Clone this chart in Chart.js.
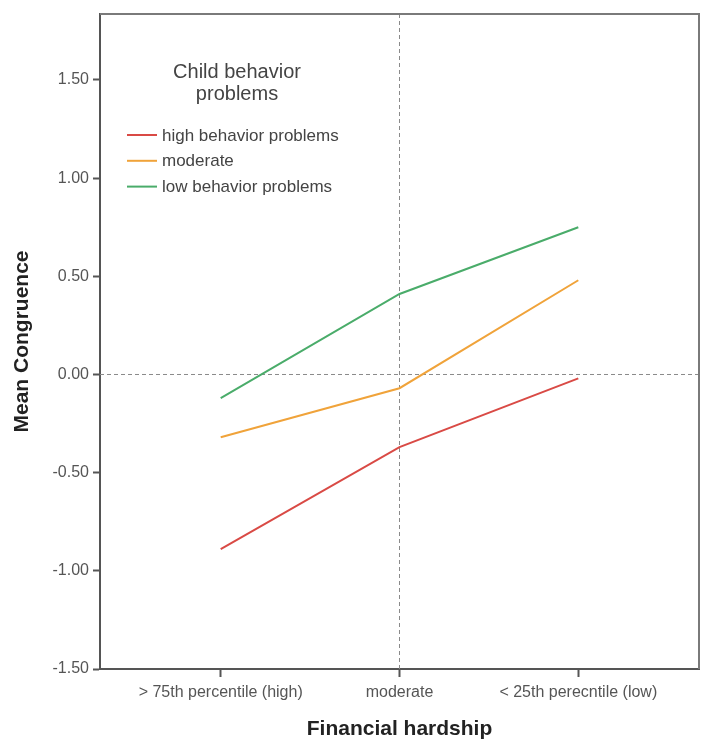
<!DOCTYPE html>
<html>
<head>
<meta charset="utf-8">
<script src="https://cdn.jsdelivr.net/npm/chart.js@4/dist/chart.umd.min.js"></script>
<style>
  html, body { margin: 0; padding: 0; background: #fff; }
  #wrap { width: 707px; height: 740px; }
</style>
</head>
<body>
<div id="wrap"><canvas id="grafico" width="707" height="740"></canvas></div>
<script>
// categorias del eje x (dificultad financiera)
const categorias = ["> 75th percentile (high)", "moderate", "< 25th perecntile (low)"];
const yTicks = [-1.5, -1.0, -0.5, 0.0, 0.5, 1.0, 1.5];

// medias
const altoProblemas = [-0.89, -0.37, -0.02];
const moderado = [-0.32, -0.07, 0.48];
const bajoProblemas = [-0.12, 0.41, 0.75];

const tituloLeyenda = ["Child behavior", "problems"];

const FUENTE = "'Liberation Sans', Arial, sans-serif";

function puntos(valores) {
  return valores.map((v, i) => ({ x: i, y: v }));
}

// caja, lineas de referencia y leyenda dentro del area
const extras = {
  id: 'extras',
  beforeDatasetsDraw(chart) {
    const { ctx, chartArea: a, scales } = chart;
    ctx.save();
    // lineas punteadas de referencia en y=0 y en "moderate"
    ctx.strokeStyle = '#8a8a8a';
    ctx.lineWidth = 1;
    ctx.setLineDash([4, 3]);
    const y0 = scales.y.getPixelForValue(0);
    ctx.beginPath();
    ctx.moveTo(a.left, y0);
    ctx.lineTo(a.right, y0);
    ctx.stroke();
    const x1 = scales.x.getPixelForValue(1);
    ctx.beginPath();
    ctx.moveTo(x1, a.top);
    ctx.lineTo(x1, a.bottom);
    ctx.stroke();
    ctx.restore();
  },
  afterDraw(chart) {
    const { ctx, chartArea: a } = chart;
    ctx.save();
    // marco superior y derecho
    ctx.strokeStyle = '#7a7a7a';
    ctx.lineWidth = 2;
    ctx.beginPath();
    ctx.moveTo(a.left, a.top);
    ctx.lineTo(a.right, a.top);
    ctx.lineTo(a.right, a.bottom);
    ctx.stroke();

    // leyenda
    ctx.fillStyle = '#444';
    ctx.font = "20px " + FUENTE;
    ctx.textAlign = 'center';
    ctx.textBaseline = 'middle';
    ctx.fillText(tituloLeyenda[0], 237, 72);
    ctx.fillText(tituloLeyenda[1], 237, 94);
    ctx.font = "17px " + FUENTE;
    ctx.textAlign = 'left';
    chart.data.datasets.forEach((ds, i) => {
      const y = 135 + i * 25.8;
      ctx.strokeStyle = ds.borderColor;
      ctx.lineWidth = 2;
      ctx.beginPath();
      ctx.moveTo(127, y);
      ctx.lineTo(157, y);
      ctx.stroke();
      ctx.fillStyle = '#444';
      ctx.fillText(ds.label, 162, y + 1);
    });
    ctx.restore();
  }
};

new Chart(document.getElementById('grafico'), {
  type: 'line',
  data: {
    datasets: [
      { label: 'high behavior problems', data: puntos(altoProblemas), borderColor: '#d94a45' },
      { label: 'moderate', data: puntos(moderado), borderColor: '#f0a33a' },
      { label: 'low behavior problems', data: puntos(bajoProblemas), borderColor: '#4aac6a' }
    ]
  },
  options: {
    responsive: false,
    animation: false,
    layout: { padding: { top: 14, right: 8, left: 0, bottom: 0 } },
    elements: {
      line: { borderWidth: 2, tension: 0 },
      point: { radius: 0 }
    },
    plugins: {
      legend: { display: false },
      tooltip: { enabled: false }
    },
    scales: {
      x: {
        type: 'linear',
        min: -0.675,
        max: 2.675,
        afterBuildTicks: (scale) => { scale.ticks = categorias.map((c, i) => ({ value: i })); },
        afterFit: (scale) => { scale.height = 71; },
        grid: { drawOnChartArea: false, tickLength: 8, tickColor: '#555', tickWidth: 2 },
        border: { color: '#555', width: 2 },
        ticks: {
          color: '#555',
          font: { size: 16, family: FUENTE },
          padding: 6,
          maxRotation: 0,
          callback: (value) => categorias[value]
        },
        title: {
          display: true,
          text: 'Financial hardship',
          color: '#222',
          font: { size: 21, weight: 'bold', family: FUENTE, lineHeight: 1 },
          padding: { top: 0, bottom: 0 }
        }
      },
      y: {
        min: -1.5,
        max: 1.836,
        afterBuildTicks: (scale) => { scale.ticks = yTicks.map(v => ({ value: v })); },
        afterFit: (scale) => { scale.width = 100; },
        grid: { drawOnChartArea: false, tickLength: 7, tickColor: '#555', tickWidth: 2 },
        border: { color: '#555', width: 2 },
        ticks: {
          color: '#555',
          font: { size: 16, family: FUENTE },
          padding: 4,
          callback: (value) => value.toFixed(2)
        },
        title: {
          display: true,
          text: 'Mean Congruence',
          color: '#222',
          font: { size: 21, weight: 'bold', family: FUENTE, lineHeight: 1 },
          padding: { top: 12, bottom: 0 }
        }
      }
    }
  },
  plugins: [extras]
});
</script>
</body>
</html>
